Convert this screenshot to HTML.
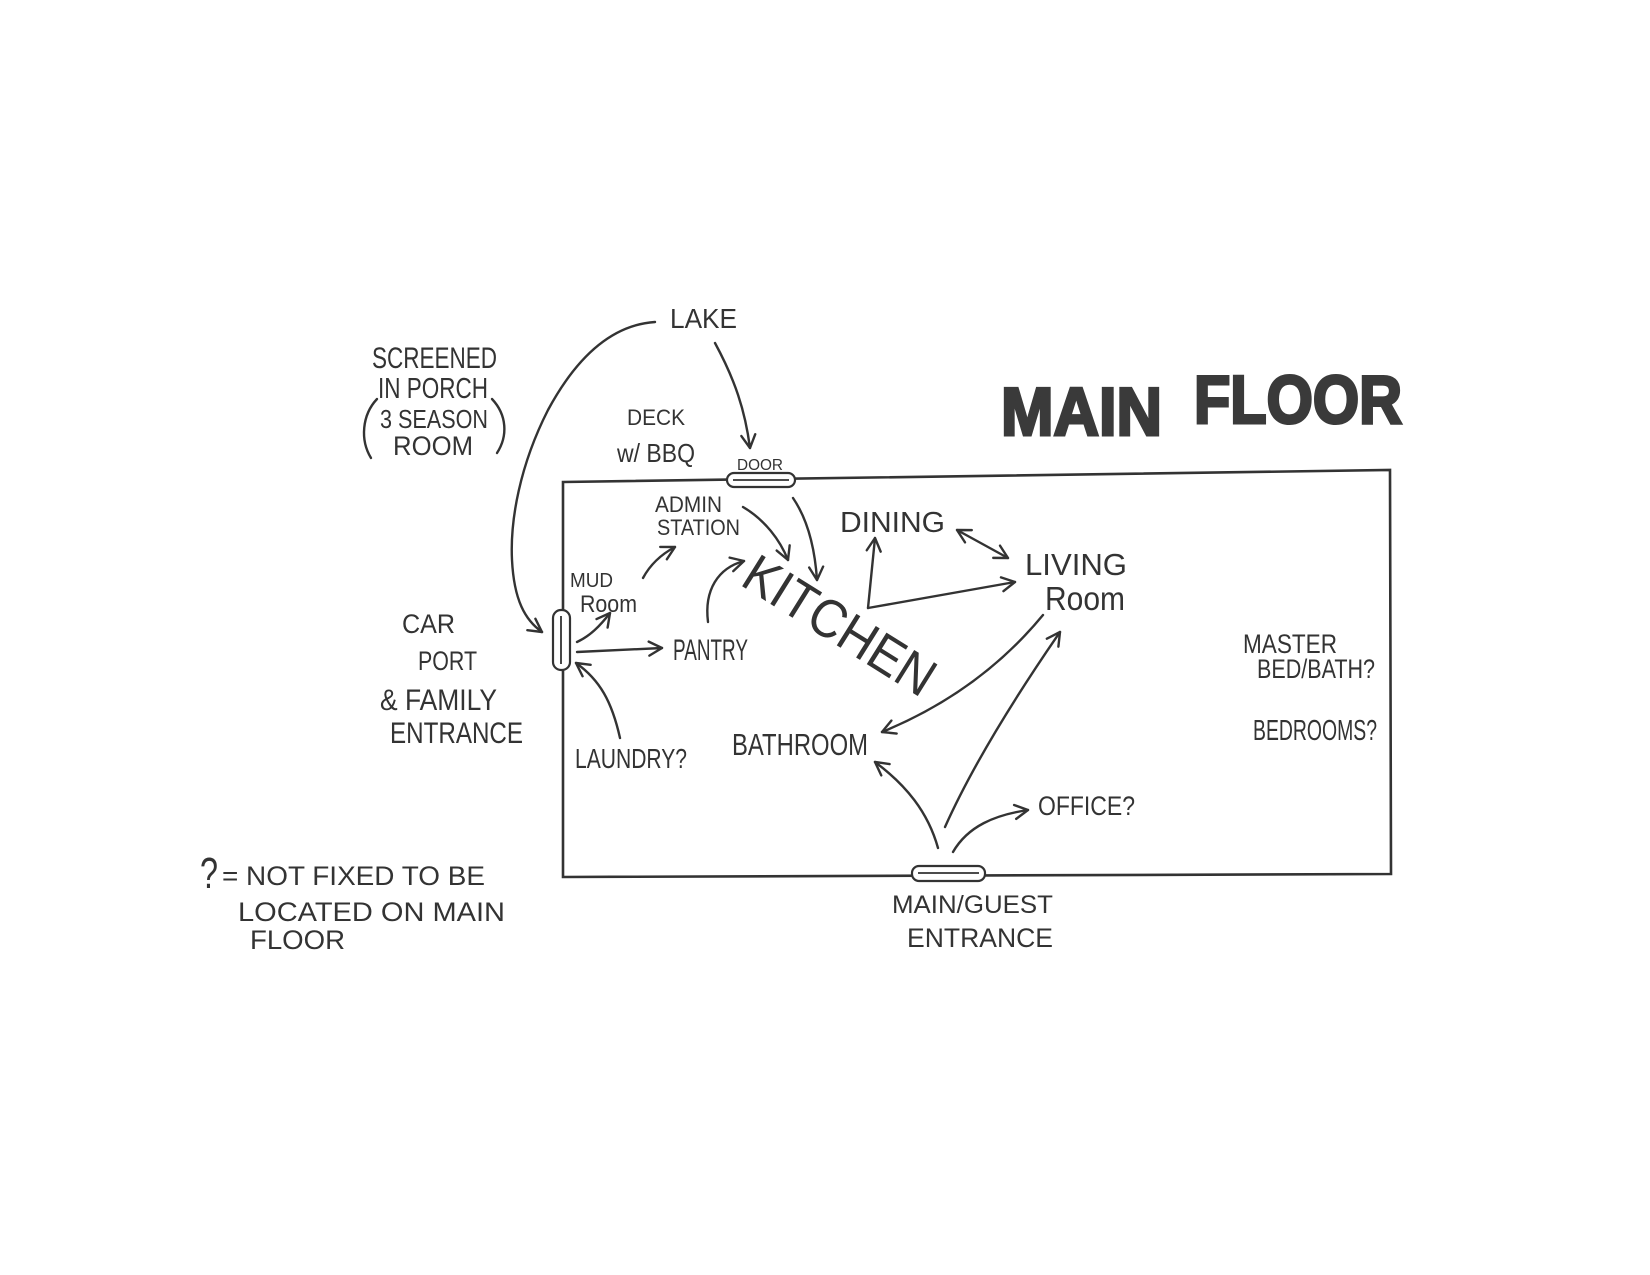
<!DOCTYPE html>
<html>
<head>
<meta charset="utf-8">
<style>
  html,body{margin:0;padding:0;background:#fff;}
  body{width:1650px;height:1275px;overflow:hidden;}
  svg{display:block;}
  .t{font-family:"Liberation Sans",sans-serif;fill:#333;}
</style>
</head>
<body>
<svg width="1650" height="1275" viewBox="0 0 1650 1275" xmlns="http://www.w3.org/2000/svg">
  <defs>
    <marker id="a" viewBox="-16 -10 20 20" refX="0" refY="0" markerWidth="20" markerHeight="20" markerUnits="userSpaceOnUse" orient="auto-start-reverse">
      <path d="M-13,-7 L0,0 L-13,7" fill="none" stroke="#333" stroke-width="2.4" stroke-linecap="round" stroke-linejoin="round"/>
    </marker>
  </defs>
  <rect width="1650" height="1275" fill="#fff"/>

  <!-- main box -->
  <path d="M563,482 L1390,470 L1391,874 L563,877 Z" fill="none" stroke="#333" stroke-width="2.6"/>

  <!-- doors -->
  <rect x="727" y="473" width="68" height="14" rx="7" fill="#fff" stroke="#333" stroke-width="2.2"/>
  <line x1="733" y1="480" x2="789" y2="480" stroke="#333" stroke-width="1.8"/>
  <rect x="553" y="610" width="17" height="60" rx="8" fill="#fff" stroke="#333" stroke-width="2.2"/>
  <line x1="561" y1="616" x2="561" y2="664" stroke="#333" stroke-width="1.8"/>
  <rect x="912" y="866" width="73" height="15" rx="7" fill="#fff" stroke="#333" stroke-width="2.2"/>
  <line x1="918" y1="873" x2="979" y2="873" stroke="#333" stroke-width="1.8"/>

  <!-- connectors -->
  <g fill="none" stroke="#333" stroke-width="2.4" stroke-linecap="round">
    <path d="M655,322 C610,325 575,360 548,410 C520,465 510,520 512,560 C514,600 525,620 542,632" marker-end="url(#a)"/>
    <path d="M715,343 C735,380 745,410 750,448" marker-end="url(#a)"/>
    <path d="M577,642 C590,636 600,626 610,613" marker-end="url(#a)"/>
    <path d="M577,652 L662,648" marker-end="url(#a)"/>
    <path d="M620,738 C612,702 600,680 576,663" marker-end="url(#a)"/>
    <path d="M643,578 C650,565 660,555 675,547" marker-end="url(#a)"/>
    <path d="M708,622 C704,590 718,568 744,561" marker-end="url(#a)"/>
    <path d="M743,507 C765,520 780,540 788,560" marker-end="url(#a)"/>
    <path d="M793,498 C808,520 815,550 817,580" marker-end="url(#a)"/>
    <path d="M868,608 L875,538" marker-end="url(#a)"/>
    <path d="M868,608 L1015,582" marker-end="url(#a)"/>
    <path d="M957,530 L1008,558" marker-start="url(#a)" marker-end="url(#a)"/>
    <path d="M1043,615 C1010,655 960,700 882,732" marker-end="url(#a)"/>
    <path d="M945,827 C975,760 1020,690 1060,632" marker-end="url(#a)"/>
    <path d="M938,848 C928,812 906,785 875,762" marker-end="url(#a)"/>
    <path d="M953,852 C968,826 995,815 1028,810" marker-end="url(#a)"/>
    <path d="M377,399 C362,415 360,440 371,458"/>
    <path d="M492,399 C507,415 508,436 497,453"/>
  </g>

  <!-- labels -->
  <g class="t">
    <text x="670" y="328" font-size="28" textLength="67" lengthAdjust="spacingAndGlyphs">LAKE</text>
    <text x="372" y="368" font-size="30" textLength="125" lengthAdjust="spacingAndGlyphs">SCREENED</text>
    <text x="378" y="398" font-size="29" textLength="110" lengthAdjust="spacingAndGlyphs">IN PORCH</text>
    <text x="380" y="428" font-size="26" textLength="108" lengthAdjust="spacingAndGlyphs">3 SEASON</text>
    <text x="393" y="455" font-size="27" textLength="80" lengthAdjust="spacingAndGlyphs">ROOM</text>
    <text x="627" y="425" font-size="22" textLength="58" lengthAdjust="spacingAndGlyphs">DECK</text>
    <text x="617" y="462" font-size="26" textLength="78" lengthAdjust="spacingAndGlyphs">w/ BBQ</text>
    <text x="737" y="470" font-size="16" textLength="46" lengthAdjust="spacingAndGlyphs">DOOR</text>
    <text x="655" y="512" font-size="22" textLength="67" lengthAdjust="spacingAndGlyphs">ADMIN</text>
    <text x="657" y="535" font-size="22" textLength="83" lengthAdjust="spacingAndGlyphs">STATION</text>
    <text x="570" y="587" font-size="20" textLength="43" lengthAdjust="spacingAndGlyphs">MUD</text>
    <text x="580" y="612" font-size="24" textLength="57" lengthAdjust="spacingAndGlyphs">Room</text>
    <text x="673" y="660" font-size="30" textLength="75" lengthAdjust="spacingAndGlyphs">PANTRY</text>
    <text x="402" y="633" font-size="27" textLength="53" lengthAdjust="spacingAndGlyphs">CAR</text>
    <text x="418" y="670" font-size="27" textLength="59" lengthAdjust="spacingAndGlyphs">PORT</text>
    <text x="380" y="710" font-size="30" textLength="117" lengthAdjust="spacingAndGlyphs">&amp; FAMILY</text>
    <text x="390" y="743" font-size="30" textLength="133" lengthAdjust="spacingAndGlyphs">ENTRANCE</text>
    <text x="575" y="768" font-size="28" textLength="112" lengthAdjust="spacingAndGlyphs">LAUNDRY?</text>
    <text x="732" y="755" font-size="31" textLength="136" lengthAdjust="spacingAndGlyphs">BATHROOM</text>
    <text x="840" y="532" font-size="29" textLength="105" lengthAdjust="spacingAndGlyphs">DINING</text>
    <text x="1025" y="575" font-size="31" textLength="102" lengthAdjust="spacingAndGlyphs">LIVING</text>
    <text x="1045" y="610" font-size="33" textLength="80" lengthAdjust="spacingAndGlyphs">Room</text>
    <text x="1243" y="653" font-size="27" textLength="94" lengthAdjust="spacingAndGlyphs">MASTER</text>
    <text x="1257" y="678" font-size="27" textLength="118" lengthAdjust="spacingAndGlyphs">BED/BATH?</text>
    <text x="1253" y="740" font-size="29" textLength="124" lengthAdjust="spacingAndGlyphs">BEDROOMS?</text>
    <text x="1038" y="815" font-size="27" textLength="97" lengthAdjust="spacingAndGlyphs">OFFICE?</text>
    <text x="892" y="913" font-size="25" textLength="161" lengthAdjust="spacingAndGlyphs">MAIN/GUEST</text>
    <text x="907" y="947" font-size="27" textLength="146" lengthAdjust="spacingAndGlyphs">ENTRANCE</text>

    <text transform="translate(840,625) rotate(32)" x="0" y="19" text-anchor="middle" font-size="54" textLength="215" lengthAdjust="spacingAndGlyphs">KITCHEN</text>

    <text x="1001" y="435" font-size="68" font-weight="bold" textLength="161" lengthAdjust="spacingAndGlyphs" stroke="#3a3a3a" stroke-width="3" fill="#3a3a3a">MAIN</text>
    <text x="1194" y="423" font-size="68" font-weight="bold" textLength="208" lengthAdjust="spacingAndGlyphs" stroke="#3a3a3a" stroke-width="3" fill="#3a3a3a">FLOOR</text>

    <text x="200" y="888" font-size="44" textLength="18" lengthAdjust="spacingAndGlyphs">?</text>
    <text x="222" y="885" font-size="27" textLength="263" lengthAdjust="spacingAndGlyphs">= NOT FIXED TO BE</text>
    <text x="238" y="921" font-size="27" textLength="267" lengthAdjust="spacingAndGlyphs">LOCATED ON MAIN</text>
    <text x="250" y="949" font-size="27" textLength="95" lengthAdjust="spacingAndGlyphs">FLOOR</text>
  </g>
</svg>
</body>
</html>
